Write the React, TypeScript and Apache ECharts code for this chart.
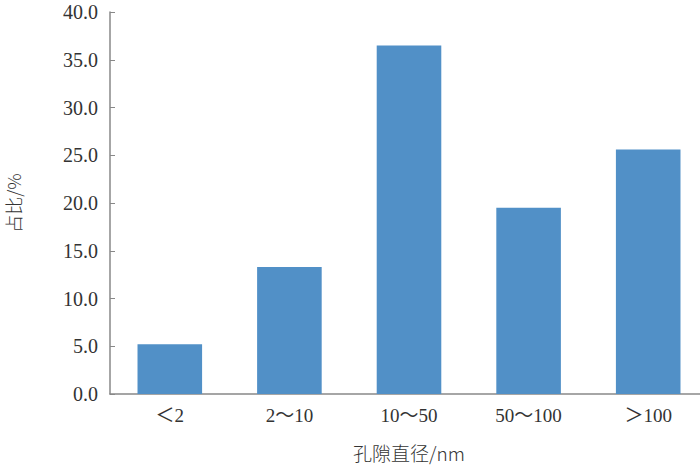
import React, { useEffect, useRef } from "react";
import * as echarts from "echarts";

const categories = ["＜2", "2～10", "10～50", "50～100", "＞100"];
const values = [5.2, 13.3, 36.5, 19.5, 25.6];
const yMin = 0;
const yMax = 40;
const yInterval = 5;

const FONT = "'Liberation Serif', 'Noto Sans CJK SC', serif";
const CJK = "'Noto Sans CJK SC', 'Liberation Serif', serif";

export default function App() {
  const ref = useRef<HTMLDivElement>(null);
  useEffect(() => {
    if (!ref.current) return;
    const chart = echarts.init(ref.current, undefined, { renderer: "svg" });
    chart.setOption({
      animation: false,
      backgroundColor: "#ffffff",
      grid: { left: 110, right: -8, top: 12, bottom: 72, outerBoundsMode: "none", containLabel: false },
      xAxis: {
        type: "category",
        data: categories,
        name: "孔隙直径/nm",
        nameLocation: "middle",
        nameGap: 49,
        nameTextStyle: { fontFamily: CJK, fontSize: 19, color: "#333", fontWeight: 300 },
        axisLine: { lineStyle: { color: "#888", width: 1.5 } },
        axisTick: { show: false },
        axisLabel: { fontFamily: FONT, fontSize: 19, color: "#333", margin: 12 },
      },
      yAxis: {
        type: "value",
        min: yMin,
        max: yMax,
        interval: yInterval,
        name: "占比/%",
        nameLocation: "middle",
        nameGap: 88,
        nameTextStyle: { fontFamily: CJK, fontSize: 18, color: "#333", fontWeight: 300 },
        axisLine: { show: true, lineStyle: { color: "#888", width: 1.5 } },
        axisTick: { show: true, inside: true, length: 5, lineStyle: { color: "#888" } },
        splitLine: { show: false },
        axisLabel: {
          fontFamily: FONT,
          fontSize: 20,
          color: "#333",
          margin: 12,
          formatter: (v: number) => v.toFixed(1),
        },
      },
      series: [
        {
          type: "bar",
          data: values,
          barCategoryGap: "46%",
          itemStyle: { color: "#5190c7" },
        },
      ],
    });
    return () => chart.dispose();
  }, []);
  return (
    <div
      ref={ref}
      style={{ position: "absolute", left: 0, top: 0, width: 700, height: 466 }}
    />
  );
}
